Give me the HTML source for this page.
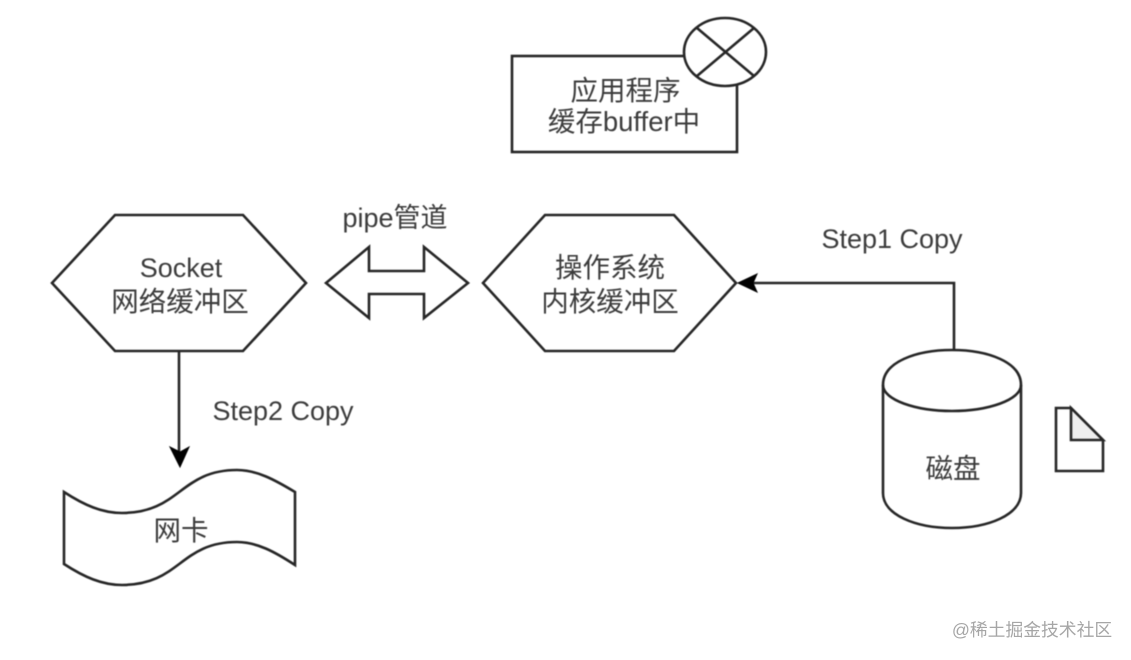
<!DOCTYPE html>
<html><head><meta charset="utf-8"><style>
html,body{margin:0;padding:0;background:#fff;width:1131px;height:660px;overflow:hidden}
svg{display:block}
text{font-family:"Liberation Sans","Noto Sans CJK SC",sans-serif;fill:#3c3c3c;text-anchor:middle}
.s{fill:#fff;stroke:#262626;stroke-width:2.6;stroke-linejoin:miter}
.t{font-size:27px}
.c{font-size:27.5px}
</style></head><body>
<svg width="1131" height="660" viewBox="0 0 1131 660" xmlns="http://www.w3.org/2000/svg">
<g style="filter:blur(.55px)">
<rect class="s" x="512" y="56" width="225" height="96"/>
<ellipse class="s" cx="725" cy="52" rx="41" ry="34"/>
<path d="M697 28L754 76M754 28L697 76" fill="none" stroke="#262626" stroke-width="2.6"/>
<text class="c" x="625.5" y="100">应用程序</text>
<text class="c" x="624" y="131">缓存buffer中</text>

<path class="s" d="M115 215H243L306 283L243 351H115L52 283Z"/>
<text class="t" x="181" y="277">Socket</text>
<text class="c" x="180" y="311">网络缓冲区</text>

<path class="s" d="M545 215H674L736 283L674 351H545L483 283Z"/>
<text class="c" x="610" y="277">操作系统</text>
<text class="c" x="610" y="311">内核缓冲区</text>

<path class="s" d="M326 283L369 247V271H424V247L468 283L424 318V294H369V318Z"/>
<text class="t" x="395" y="227">pipe管道</text>

<path d="M954 352V283H750" fill="none" stroke="#262626" stroke-width="2.6"/>
<path d="M738 283L757 274L753 283L757 292Z" fill="#000" stroke="#000" stroke-width="1"/>
<text class="t" x="892" y="248">Step1 Copy</text>

<path d="M179 351V455" fill="none" stroke="#262626" stroke-width="2.6"/>
<path d="M180 467L170 447L180 452L189 447Z" fill="#000" stroke="#000" stroke-width="1"/>
<text class="t" x="283" y="420">Step2 Copy</text>

<path class="s" d="M64 492C84 505 102 513 122 513C180 513 180 470 237 470C257 470 275 480 295 492V565C275 552 257 542 237 542C180 542 180 585 122 585C102 585 84 577 64 564Z"/>
<text class="c" x="181" y="540">网卡</text>

<path class="s" d="M883 385C883 362 916 350 952 350C988 350 1021 362 1021 385V493C1021 515 988 528 952 528C916 528 883 515 883 493Z"/>
<path d="M883 385C883 400 916 411 952 411C988 411 1021 400 1021 385" fill="none" stroke="#262626" stroke-width="2.6"/>
<text class="c" x="953" y="478">磁盘</text>

<path class="s" d="M1056 408H1071L1103 440V471H1056Z"/>
<path d="M1071 408L1103 440H1071Z" fill="#eee" stroke="#262626" stroke-width="2.6"/>
</g>
<text x="1032" y="636" style="font-size:17.8px;fill:#a6a6a6">@稀土掘金技术社区</text>
</svg>
</body></html>
